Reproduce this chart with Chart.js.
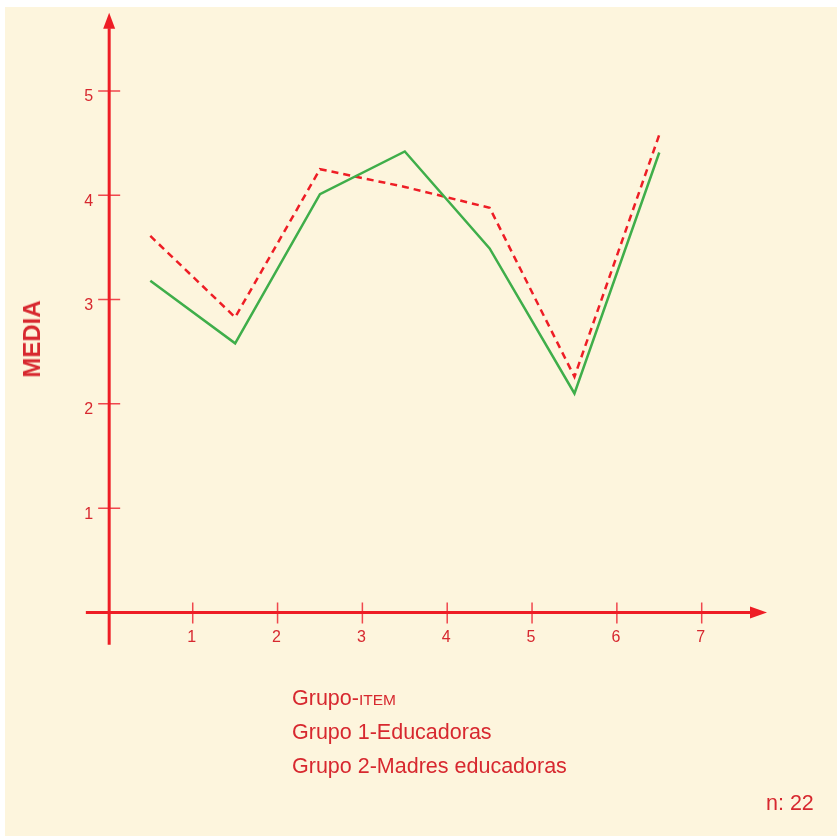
<!DOCTYPE html>
<html>
<head>
<meta charset="utf-8">
<script src="https://cdn.jsdelivr.net/npm/chart.js@4/dist/chart.umd.min.js"></script>
<style>
  body { margin: 0; background: #ffffff; font-family: "Liberation Sans", Arial, sans-serif; }
  #fondo { position: absolute; left: 5px; top: 7px; width: 832px; height: 829px; background: #fdf5dd; }
  #lienzo { position: absolute; left: 0; top: 0; }
  .texto { position: absolute; color: #d7282f; font-size: 21.5px; line-height: 21px; white-space: nowrap; }
  .texto small { font-size: 15.5px; }
  #media { position: absolute; left: 32px; top: 339px; color: #d7282f; font-size: 24px; font-weight: bold;
           transform: translate(-50%, -50%) rotate(-90deg); white-space: nowrap; line-height: 24px; }
</style>
</head>
<body>
<div id="fondo"></div>
<canvas id="lienzo" width="837" height="836"></canvas>
<div id="media">MEDIA</div>
<div class="texto" style="left:292px; top:688px;">Grupo-<small>ITEM</small></div>
<div class="texto" style="left:292px; top:722px;">Grupo 1-Educadoras</div>
<div class="texto" style="left:292px; top:756px;">Grupo 2-Madres educadoras</div>
<div class="texto" style="left:766px; top:793px;">n: 22</div>
<script>
// Datos del gráfico
const items = [0.5, 1.5, 2.5, 3.5, 4.5, 5.5, 6.5];
const grupo1 = [3.18, 2.58, 4.01, 4.42, 3.49, 2.10, 4.41];   // Educadoras (verde)
const grupo2 = [3.61, 2.83, 4.25, 4.08, 3.88, 2.26, 4.58];   // Madres educadoras (rojo discontinuo)
const ticksX = [1, 2, 3, 4, 5, 6, 7];
const ticksY = [1, 2, 3, 4, 5];

const rojoEje = '#ee1d25';
const rojoTexto = '#d7282f';

// Plugin para dibujar ejes con flechas cruzando en el origen
const ejes = {
    id: 'ejes',
    beforeDatasetsDraw(chart) {
        const { ctx, scales: { x, y } } = chart;
        const x0 = x.getPixelForValue(0.015);
        const y0 = y.getPixelForValue(0);
        ctx.save();

        // marcas de los ticks
        ctx.strokeStyle = '#f0474d';
        ctx.lineWidth = 1.5;
        ctx.beginPath();
        ticksX.forEach(t => {
            const px = x.getPixelForValue(t);
            ctx.moveTo(px, y0 - 10);
            ctx.lineTo(px, y0 + 11);
        });
        ticksY.forEach(t => {
            const py = y.getPixelForValue(t);
            ctx.moveTo(x0 - 11, py);
            ctx.lineTo(x0 + 11, py);
        });
        ctx.stroke();

        // líneas de los ejes
        ctx.strokeStyle = rojoEje;
        ctx.lineWidth = 3;
        const xFin = x.getPixelForValue(7.6);
        const yFin = y.getPixelForValue(5.6);
        ctx.beginPath();
        ctx.moveTo(x.getPixelForValue(-0.26), y0);
        ctx.lineTo(xFin, y0);
        ctx.moveTo(x0, y.getPixelForValue(-0.31));
        ctx.lineTo(x0, yFin);
        ctx.stroke();

        // flechas
        ctx.fillStyle = rojoEje;
        const xPunta = x.getPixelForValue(7.77);
        ctx.beginPath();
        ctx.moveTo(xPunta, y0);
        ctx.lineTo(xPunta - 17, y0 - 6);
        ctx.lineTo(xPunta - 17, y0 + 6);
        ctx.closePath();
        ctx.fill();
        const yPunta = y.getPixelForValue(5.75);
        ctx.beginPath();
        ctx.moveTo(x0, yPunta);
        ctx.lineTo(x0 - 6, yPunta + 16);
        ctx.lineTo(x0 + 6, yPunta + 16);
        ctx.closePath();
        ctx.fill();

        // etiquetas
        ctx.fillStyle = rojoTexto;
        ctx.font = '16px "Liberation Sans", Arial, sans-serif';
        ctx.textAlign = 'center';
        ctx.textBaseline = 'middle';
        ticksX.forEach(t => ctx.fillText(String(t), x.getPixelForValue(t) - 1, y0 + 25));
        ctx.textAlign = 'right';
        ticksY.forEach(t => ctx.fillText(String(t), x0 - 16, y.getPixelForValue(t) + 6));
        ctx.restore();
    }
};

const ctx = document.getElementById('lienzo').getContext('2d');
const grafico = new Chart(ctx, {
    type: 'line',
    data: {
        datasets: [{
            label: 'Grupo 1-Educadoras',
            data: items.map((v, i) => ({ x: v, y: grupo1[i] })),
            borderColor: '#3fae4a',
            borderWidth: 2.5,
            pointRadius: 0,
            tension: 0,
            fill: false
        }, {
            label: 'Grupo 2-Madres educadoras',
            data: items.map((v, i) => ({ x: v, y: grupo2[i] })),
            borderColor: rojoEje,
            borderWidth: 2.5,
            borderDash: [7, 5],
            pointRadius: 0,
            tension: 0,
            fill: false
        }]
    },
    options: {
        responsive: false,
        animation: false,
        layout: { padding: 0 },
        plugins: { legend: { display: false }, tooltip: { enabled: false } },
        scales: {
            x: { type: 'linear', min: -1.272, max: 8.595, display: false },
            y: { type: 'linear', min: -2.143, max: 5.872, display: false }
        }
    },
    plugins: [ejes]
});
</script>
</body>
</html>
